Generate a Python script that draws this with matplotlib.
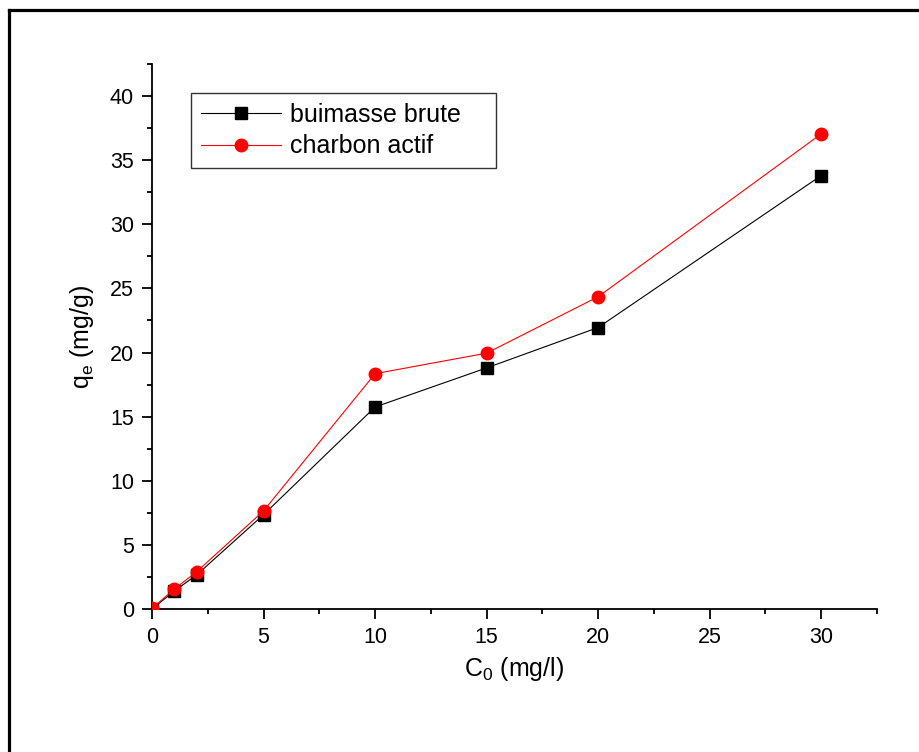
import matplotlib
matplotlib.use('Agg')
import matplotlib.pyplot as plt
from matplotlib.lines import Line2D
from matplotlib.ticker import MultipleLocator

plt.rcParams['font.family'] = ['Liberation Sans', 'DejaVu Sans']
plt.rcParams['mathtext.default'] = 'regular'

# donnees
c0 = [0, 1, 2, 5, 10, 15, 20, 30]
qe_biomasse = [0.0, 1.4, 2.65, 7.35, 15.75, 18.8, 21.95, 33.8]
qe_charbon = [0.05, 1.55, 2.9, 7.65, 18.35, 19.95, 24.35, 37.05]
labels = ['buimasse brute', 'charbon actif']

fig = plt.figure(figsize=(9.19, 7.52), dpi=100)
ax = fig.add_axes([0.1654, 0.1902, 0.7889, 0.7247])

ax.plot(c0, qe_biomasse, color='black', lw=0.8, marker='s', ms=8.5,
        label=labels[0], zorder=3)
ax.plot(c0, qe_charbon, color='red', lw=0.8, marker='o', ms=9,
        label=labels[1], zorder=4)

ax.set_xlim(0, 32.5)
ax.set_ylim(0, 42.5)
ax.xaxis.set_major_locator(MultipleLocator(5))
ax.xaxis.set_minor_locator(MultipleLocator(2.5))
ax.yaxis.set_major_locator(MultipleLocator(5))
ax.yaxis.set_minor_locator(MultipleLocator(2.5))

for s in ['top', 'right']:
    ax.spines[s].set_visible(False)
for s in ['left', 'bottom']:
    ax.spines[s].set_linewidth(1.3)

ax.tick_params(which='major', direction='out', length=7, width=1.3,
               labelsize=15.5, pad=6)
ax.tick_params(which='minor', direction='out', length=3.6, width=1.3)

ax.set_xlabel(r'C$_0$ (mg/l)', fontsize=18, labelpad=5)
ax.set_ylabel(r'q$_e$ (mg/g)', fontsize=18, labelpad=10)

leg = ax.legend(loc='upper left', bbox_to_anchor=(0.0538, 0.9468, 0.4207, 0.0),
                mode='expand', borderaxespad=0, borderpad=0.4,
                handlelength=3.2, handletextpad=0.35, labelspacing=0.3,
                fontsize=18, fancybox=False, frameon=True)
leg.get_frame().set_edgecolor('black')
leg.get_frame().set_linewidth(1.0)

# cadre autour de la figure (bords gauche et haut visibles)
fig.add_artist(Line2D([0.0098, 0.0098], [0.0, 0.987], transform=fig.transFigure,
                      color='black', lw=2.3))
fig.add_artist(Line2D([0.0098, 1.0], [0.987, 0.987], transform=fig.transFigure,
                      color='black', lw=2.3))

fig.savefig('out.png', dpi=100)
